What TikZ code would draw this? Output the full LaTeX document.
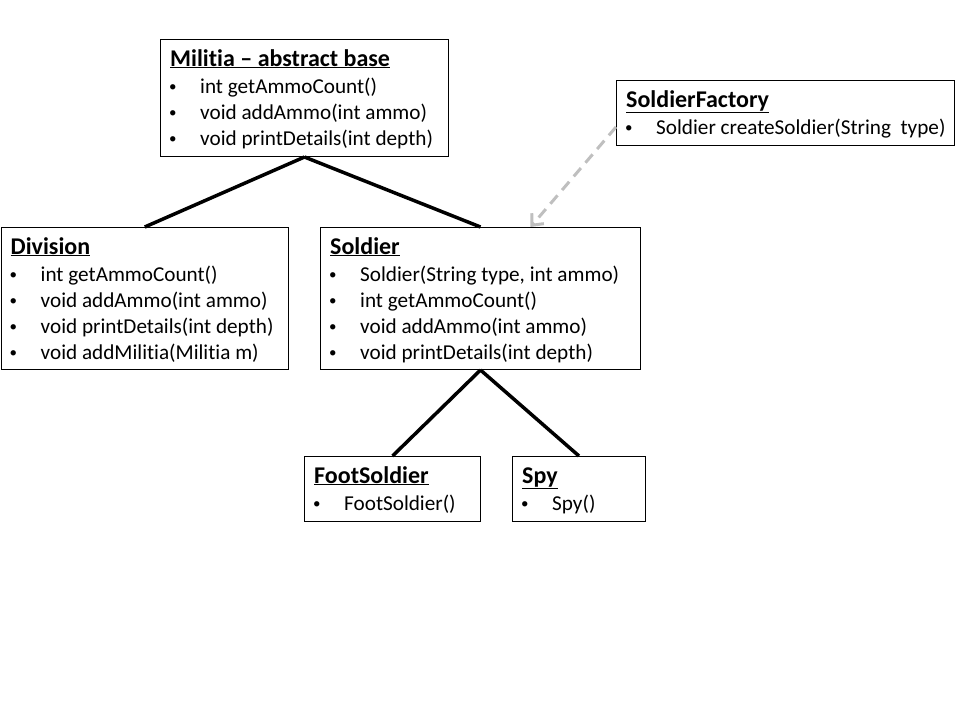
\documentclass[tikz,border=0pt]{standalone}
\usepackage{fontspec}
\setmainfont[Ligatures=NoCommon]{Carlito}
\usetikzlibrary{arrows.meta,calc}
\tikzset{
  classbox/.style={draw=black, line width=1pt, fill=white, inner sep=0pt, anchor=north west},
  classtitle/.style={anchor=base west, inner sep=0pt, font=\fontsize{24}{28}\selectfont\bfseries},
  classitem/.style={anchor=base west, inner sep=0pt, font=\fontsize{21.2}{26}\selectfont},
  inherit/.style={draw=black, line width=3.5pt},
  creates/.style={draw=black!25, line width=3pt, dash pattern=on 11pt off 7pt, -{Straight Barb[length=9pt,width=16pt,line width=3pt]}}
}
\newcommand{\smallbullet}{\raisebox{1.2pt}{\fontsize{15}{15}\selectfont\textbullet}}
\newcommand{\umlclass}[7]{%
  \node[classbox, minimum width=#4pt, minimum height=#5pt] (#1) at (#2,#3) {};
  \node[classtitle] (#1-t) at ($(#1.north west)+(10,27)$) {\underline{#6}};
  \foreach \s [count=\i] in {#7} {
    \node[classitem] (#1-\i) at ($(#1.north west)+(9,28+26*\i)$) {\makebox[31pt][l]{\smallbullet}\s};
  }
}
\begin{document}
\begin{tikzpicture}[x=1pt,y=-1pt]
\useasboundingbox (0,0) rectangle (960,720);
\umlclass{mil}{160}{39}{288}{117}{Militia – abstract base}{int getAmmoCount(), void addAmmo(int ammo), void printDetails(int depth)}
\umlclass{sf}{616}{80}{338}{65}{SoldierFactory}{Soldier createSoldier(String\ \ type)}
\umlclass{div}{0.5}{227}{287.5}{142}{Division}{int getAmmoCount(), void addAmmo(int ammo), void printDetails(int depth), void addMilitia(Militia m)}
\umlclass{sol}{320}{227}{320}{142}{Soldier}{{Soldier(String type, int ammo)}, int getAmmoCount(), void addAmmo(int ammo), void printDetails(int depth)}
\umlclass{fs}{304}{456}{176}{65}{FootSoldier}{FootSoldier()}
\umlclass{spy}{512}{456}{133}{65}{Spy}{Spy()}
\draw[inherit] (mil.south) -- (div.north);
\draw[inherit] (mil.south) -- (sol.north);
\draw[inherit] (sol.south) -- (fs.north);
\draw[inherit] (sol.south) -- (spy.north);
\coordinate (sfout) at ($(sf.north west)+(0,47)$);
\coordinate (solin) at ($(sol.north)+(50,0)$);
\draw[creates] (sfout) -- (solin);
\end{tikzpicture}
\end{document}
